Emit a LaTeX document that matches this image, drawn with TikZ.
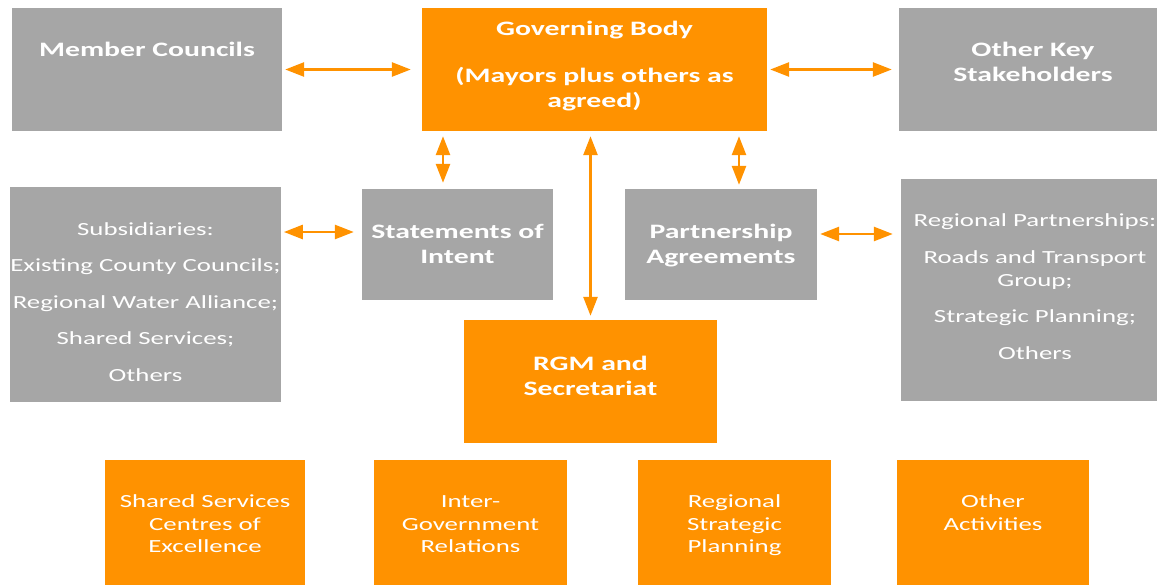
\documentclass[tikz,border=0pt]{standalone}
\usepackage{fontspec}
\setmainfont{Carlito}[FakeStretch=1.45]
\usetikzlibrary{arrows.meta,positioning}
\definecolor{boxorange}{RGB}{255,146,0}
\definecolor{boxgrey}{RGB}{166,166,166}
% text lifted inside a box, lines centred
\newcommand{\boxtext}[2]{\raisebox{#1}[0pt][0pt]{\begin{tabular}{@{}c@{}}#2\end{tabular}}}

\begin{document}
\begin{tikzpicture}[x=1pt,y=-1pt,>={Triangle[width=14pt,length=19pt]},
  box/.style={rectangle,inner sep=0pt,text=white},
  grey box/.style={box,fill=boxgrey},
  orange box/.style={box,fill=boxorange},
  heading/.style={font=\fontsize{20.5}{25}\selectfont\bfseries},
  plain/.style={font=\fontsize{18.5}{22.5}\selectfont},
  link/.style={<->,draw=boxorange,line width=2.7pt,shorten <=5pt,shorten >=6pt}]
  \useasboundingbox (0,0) rectangle (1157,584);

  \node[grey box,heading,minimum width=270pt,minimum height=123pt] (mem) at (147,69.5) {\boxtext{12.5pt}{Member Councils}};
  \node[orange box,heading,minimum width=345pt,minimum height=123pt] (gov) at (594.5,69.5) {\boxtext{-2.5pt}{Governing Body\\[22pt](Mayors plus others as\\agreed)}};
  \node[grey box,heading,minimum width=268pt,minimum height=123pt] (others) at (1033,69.5) {\boxtext{0pt}{Other Key\\Stakeholders}};

  \node[grey box,plain,minimum width=267pt,minimum height=215pt] (subs) at (145.5,294.5) {\boxtext{-13.5pt}{Subsidiaries:\\[14pt]Existing County Councils;\\[14pt]Regional Water Alliance;\\[14pt]Shared Services;\\[14pt]Others}};
  \node[grey box,heading,minimum width=191pt,minimum height=111pt] (soi) at (457.5,244.5) {\boxtext{-7pt}{Statements of\\Intent}};
  \node[grey box,heading,minimum width=192pt,minimum height=111pt] (pa) at (721,244.5) {\boxtext{-7pt}{Partnership\\Agreements}};
  \node[grey box,plain,minimum width=268pt,minimum height=222pt] (regp) at (1035,290) {\boxtext{-2.5pt}{Regional Partnerships:\\[15pt]Roads and Transport\\Group;\\[14pt]Strategic Planning;\\[14pt]Others}};

  \node[orange box,heading,minimum width=253pt,minimum height=123pt] (rgm) at (590.5,381.5) {\boxtext{-2pt}{RGM and\\Secretariat}};

  \node[orange box,plain,minimum width=200pt,minimum height=130pt] (ssce) at (205,525) {\boxtext{-5pt}{Shared Services\\Centres of\\Excellence}};
  \node[orange box,plain,minimum width=193pt,minimum height=130pt] (igr) at (470.5,525) {\boxtext{-5pt}{Inter-\\Government\\Relations}};
  \node[orange box,plain,minimum width=193pt,minimum height=130pt] (rsp) at (734.5,525) {\boxtext{-5pt}{Regional\\Strategic\\Planning}};
  \node[orange box,plain,minimum width=192pt,minimum height=130pt] (oact) at (993,525) {\boxtext{6pt}{Other\\Activities}};

  \path
    (mem) edge[link,shorten <=3pt,shorten >=11pt] (gov)
    (gov) edge[link,shorten <=3pt,shorten >=7pt] (others)
    ([xshift=-14.5pt]soi.north |- gov.south) edge[link] ([xshift=-14.5pt]soi.north)
    (gov.south -| rgm.north) edge[link,shorten >=4pt] (rgm.north)
    ([xshift=18pt]pa.north |- gov.south) edge[link,shorten >=4pt] ([xshift=18pt]pa.north)
    ([yshift=12.5pt]soi.west -| subs.east) edge[link,shorten <=3pt,shorten >=8pt] ([yshift=12.5pt]soi.west)
    ([yshift=10.5pt]pa.east) edge[link,shorten <=3pt,shorten >=8pt] ([yshift=10.5pt]pa.east -| regp.west);
\end{tikzpicture}
\end{document}
